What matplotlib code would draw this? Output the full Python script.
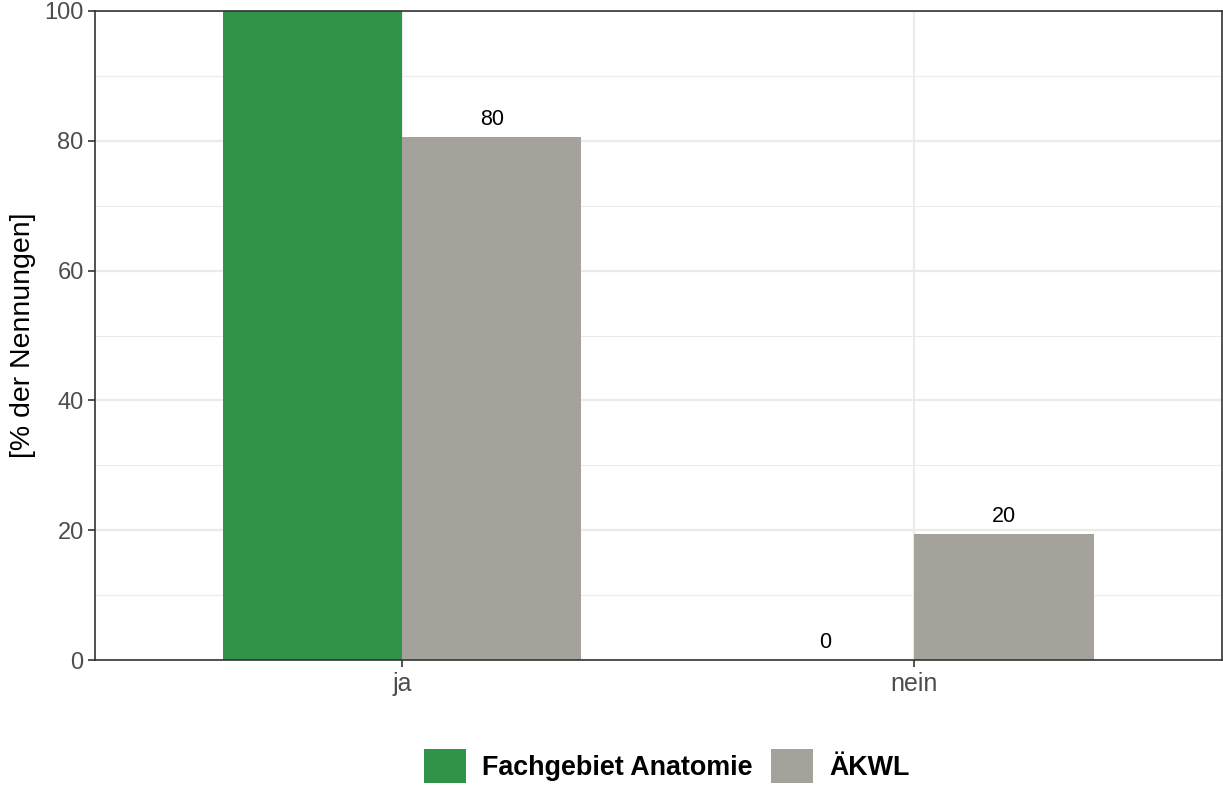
import matplotlib.pyplot as plt
import numpy as np
from matplotlib.patches import Patch

plt.rcParams['font.family'] = ['Liberation Sans', 'DejaVu Sans']

# data
categories = ['ja', 'nein']
series = ['Fachgebiet Anatomie', 'ÄKWL']
anatomie = [100, 0]
aekwl = [80.6, 19.4]
anatomie_labels = ['100', '0']
aekwl_labels = ['80', '20']
colors = ['#31924A', '#A5A29B']

fig = plt.figure(figsize=(12.23, 7.89), dpi=100)
ax = fig.add_axes([0.0775, 0.163, 0.9215, 0.8235])

x = np.arange(1, len(categories) + 1)
w = 0.35
ymax = 100

ax.bar(x - w / 2, anatomie, width=w, color=colors[0], zorder=2)
ax.bar(x + w / 2, aekwl, width=w, color=colors[1], zorder=2)

# value labels; the one above the panel top is cut away like in ggplot
for xs, vals, labs in [(x - w / 2, anatomie, anatomie_labels),
                       (x + w / 2, aekwl, aekwl_labels)]:
    for xi, v, lab in zip(xs, vals, labs):
        if v >= ymax:
            continue
        ax.annotate(lab, (xi, v), xytext=(0, 5), textcoords='offset points',
                    ha='center', va='bottom', fontsize=15.5, color='black')

ax.set_xlim(0.4, 2.6)
ax.set_ylim(0, ymax)
ax.set_xticks(x)
ax.set_xticklabels(categories)
ax.set_yticks(np.arange(0, 101, 20))
ax.set_yticks(np.arange(10, 100, 20), minor=True)

ax.grid(True, which='major', color='#EBEBEB', linewidth=1.6, zorder=0)
ax.grid(True, which='minor', axis='y', color='#EBEBEB', linewidth=0.8, zorder=0)
ax.set_axisbelow(True)

for s in ax.spines.values():
    s.set_color('#333333')
    s.set_linewidth(1.2)

ax.tick_params(which='major', length=5, width=1.2, color='#333333',
               labelcolor='#4D4D4D', pad=3)
ax.tick_params(axis='y', labelsize=17)
ax.tick_params(axis='x', labelsize=18)
ax.tick_params(which='minor', length=0)

ax.set_ylabel('[% der Nennungen]', fontsize=20.5, color='black', labelpad=6)

handles = [Patch(facecolor=c, edgecolor='none') for c in colors]
leg = fig.legend(handles, series, loc='center', bbox_to_anchor=(0.545, 0.029),
                 ncol=2, frameon=False, handlelength=1.55, handleheight=1.55,
                 handletextpad=0.6, columnspacing=0.7,
                 prop={'size': 19.4, 'weight': 'bold'})

fig.savefig('out.png', dpi=100)
